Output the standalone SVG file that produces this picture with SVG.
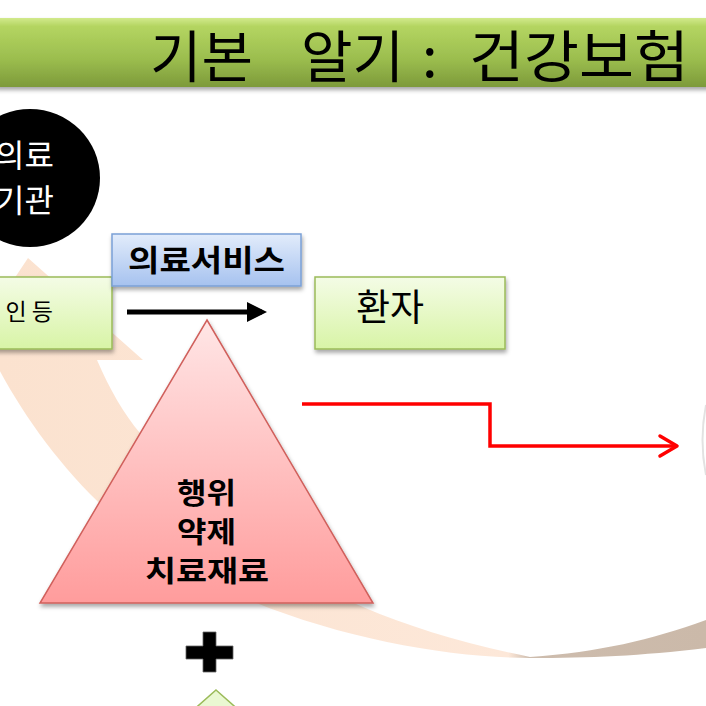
<svg xmlns="http://www.w3.org/2000/svg" width="706" height="706" viewBox="0 0 706 706">
<style>
  .kr { font-family: "Noto Sans CJK KR", "Noto Sans", sans-serif; }
  .bold { font-weight: bold; }
  .title { font-size: 56px; fill: #000; }
  .tri { font-size: 29px; fill: #000; font-weight: bold; }
</style>
<defs>
  <linearGradient id="barGrad" x1="0" y1="0" x2="0" y2="1">
    <stop offset="0" stop-color="#d2ea8c"/>
    <stop offset="0.12" stop-color="#b4d561"/>
    <stop offset="0.6" stop-color="#9bbd4e"/>
    <stop offset="1" stop-color="#7d9a3a"/>
  </linearGradient>
  <linearGradient id="greenBox" x1="0" y1="0" x2="0" y2="1">
    <stop offset="0" stop-color="#f4fce6"/>
    <stop offset="1" stop-color="#d8f4a6"/>
  </linearGradient>
  <linearGradient id="blueBox" x1="0" y1="0" x2="0" y2="1">
    <stop offset="0" stop-color="#e2ecfb"/>
    <stop offset="1" stop-color="#a6c2ef"/>
  </linearGradient>
  <linearGradient id="triGrad" x1="0" y1="0" x2="0" y2="1">
    <stop offset="0" stop-color="#ffe6e6"/>
    <stop offset="1" stop-color="#ff9c9c"/>
  </linearGradient>
  <linearGradient id="bandGrad" gradientUnits="userSpaceOnUse" x1="0" y1="0" x2="706" y2="0">
    <stop offset="0" stop-color="#fbe2cf"/>
    <stop offset="0.72" stop-color="#fde8d9"/>
    <stop offset="0.75" stop-color="#cdbcad"/>
    <stop offset="1" stop-color="#cbb9a9"/>
  </linearGradient>
  <filter id="shadow" x="-10%" y="-10%" width="130%" height="140%">
    <feDropShadow dx="1" dy="3" stdDeviation="2" flood-color="#000" flood-opacity="0.35"/>
  </filter>
  <marker id="blackHead" markerWidth="4" markerHeight="4" refX="3" refY="2" orient="auto" markerUnits="strokeWidth">
    <path d="M0,0 L4,2 L0,4 Z" fill="#000"/>
  </marker>
</defs>

<!-- background curved arrow band -->
<g id="cycle-arrow">
  <path d="M 706 648 C 640 656, 590 658, 530 658 C 420 658, 240 620, 133 533 C 70 482, 25 420, -6 360 L -40 360 L 28 258 L 143 360 L 97 360 C 110 390, 124 414, 140 433 C 210 530, 320 615, 530 657 C 600 652, 650 640, 706 620 Z" fill="url(#bandGrad)"/>
  <path d="M 706 405 Q 699 440 706 475" fill="none" stroke="#e2e2e2" stroke-width="2"/>
</g>

<!-- title bar -->
<g id="title">
  <rect x="-5" y="18" width="716" height="69" fill="url(#barGrad)" filter="url(#shadow)"/>
  <text class="kr title" x="150" y="77">기본</text>
  <text class="kr title" x="301" y="77">알기</text>
  <text class="kr title" x="422" y="77">:</text>
  <text class="kr title" x="469" y="77" textLength="220" lengthAdjust="spacingAndGlyphs">건강보험</text>
</g>

<!-- medical institution circle -->
<g id="node-institution">
  <ellipse cx="30" cy="178" rx="70" ry="69" fill="#000"/>
  <text class="kr" x="54" y="167" font-size="32" fill="#fff" text-anchor="end">의료</text>
  <text class="kr" x="54" y="212" font-size="32" fill="#fff" text-anchor="end">기관</text>
</g>

<!-- left green box -->
<g id="node-left">
  <rect x="-10" y="277" width="122" height="72" fill="url(#greenBox)" stroke="#9bbb59" stroke-width="1.5" filter="url(#shadow)"/>
  <text class="kr" x="53" y="320" font-size="23" fill="#000" text-anchor="end">인 등</text>
</g>

<!-- medical service label -->
<g id="node-service">
  <rect x="112" y="234" width="189" height="52" fill="url(#blueBox)" stroke="#7ba0d6" stroke-width="1.5" filter="url(#shadow)"/>
  <text class="kr bold" x="128" y="271" font-size="30" fill="#000" textLength="157" lengthAdjust="spacingAndGlyphs">의료서비스</text>
</g>

<!-- patient box -->
<g id="node-patient">
  <rect x="315" y="277" width="190" height="72" fill="url(#greenBox)" stroke="#9bbb59" stroke-width="1.5" filter="url(#shadow)"/>
  <text class="kr" x="356" y="321" font-size="37" fill="#000">환자</text>
</g>

<!-- triangle -->
<g id="node-triangle">
  <polygon points="207,320 373,603 40,603" fill="url(#triGrad)" stroke="#d0605c" stroke-width="1.5" filter="url(#shadow)"/>
  <text class="kr tri" x="177" y="504" textLength="59" lengthAdjust="spacingAndGlyphs">행위</text>
  <text class="kr tri" x="177" y="543" textLength="59" lengthAdjust="spacingAndGlyphs">약제</text>
  <text class="kr tri" x="145" y="582" textLength="124" lengthAdjust="spacingAndGlyphs">치료재료</text>
</g>

<!-- plus sign -->
<g id="node-plus">
  <path d="M 203 632 H 216 V 646 H 233 V 659 H 216 V 672 H 203 V 659 H 186 V 646 H 203 Z" fill="#000" stroke="#666" stroke-width="0.8"/>
</g>

<!-- bottom green triangle -->
<g id="node-bottom">
  <polygon points="216,690 250,720 182,720" fill="#eaf8d2" stroke="#9bbb59" stroke-width="1.5"/>
</g>

<!-- connectors -->
<g id="connectors">
  <line x1="127" y1="312" x2="262" y2="312" stroke="#000" stroke-width="5" marker-end="url(#blackHead)"/>
  <polyline points="302,404 490,404 490,446 674,446" fill="none" stroke="#ff0000" stroke-width="3.5"/>
  <polyline points="660,436 677,446 660,456" fill="none" stroke="#ff0000" stroke-width="3.5" stroke-linecap="round" stroke-linejoin="round"/>
</g>
</svg>
